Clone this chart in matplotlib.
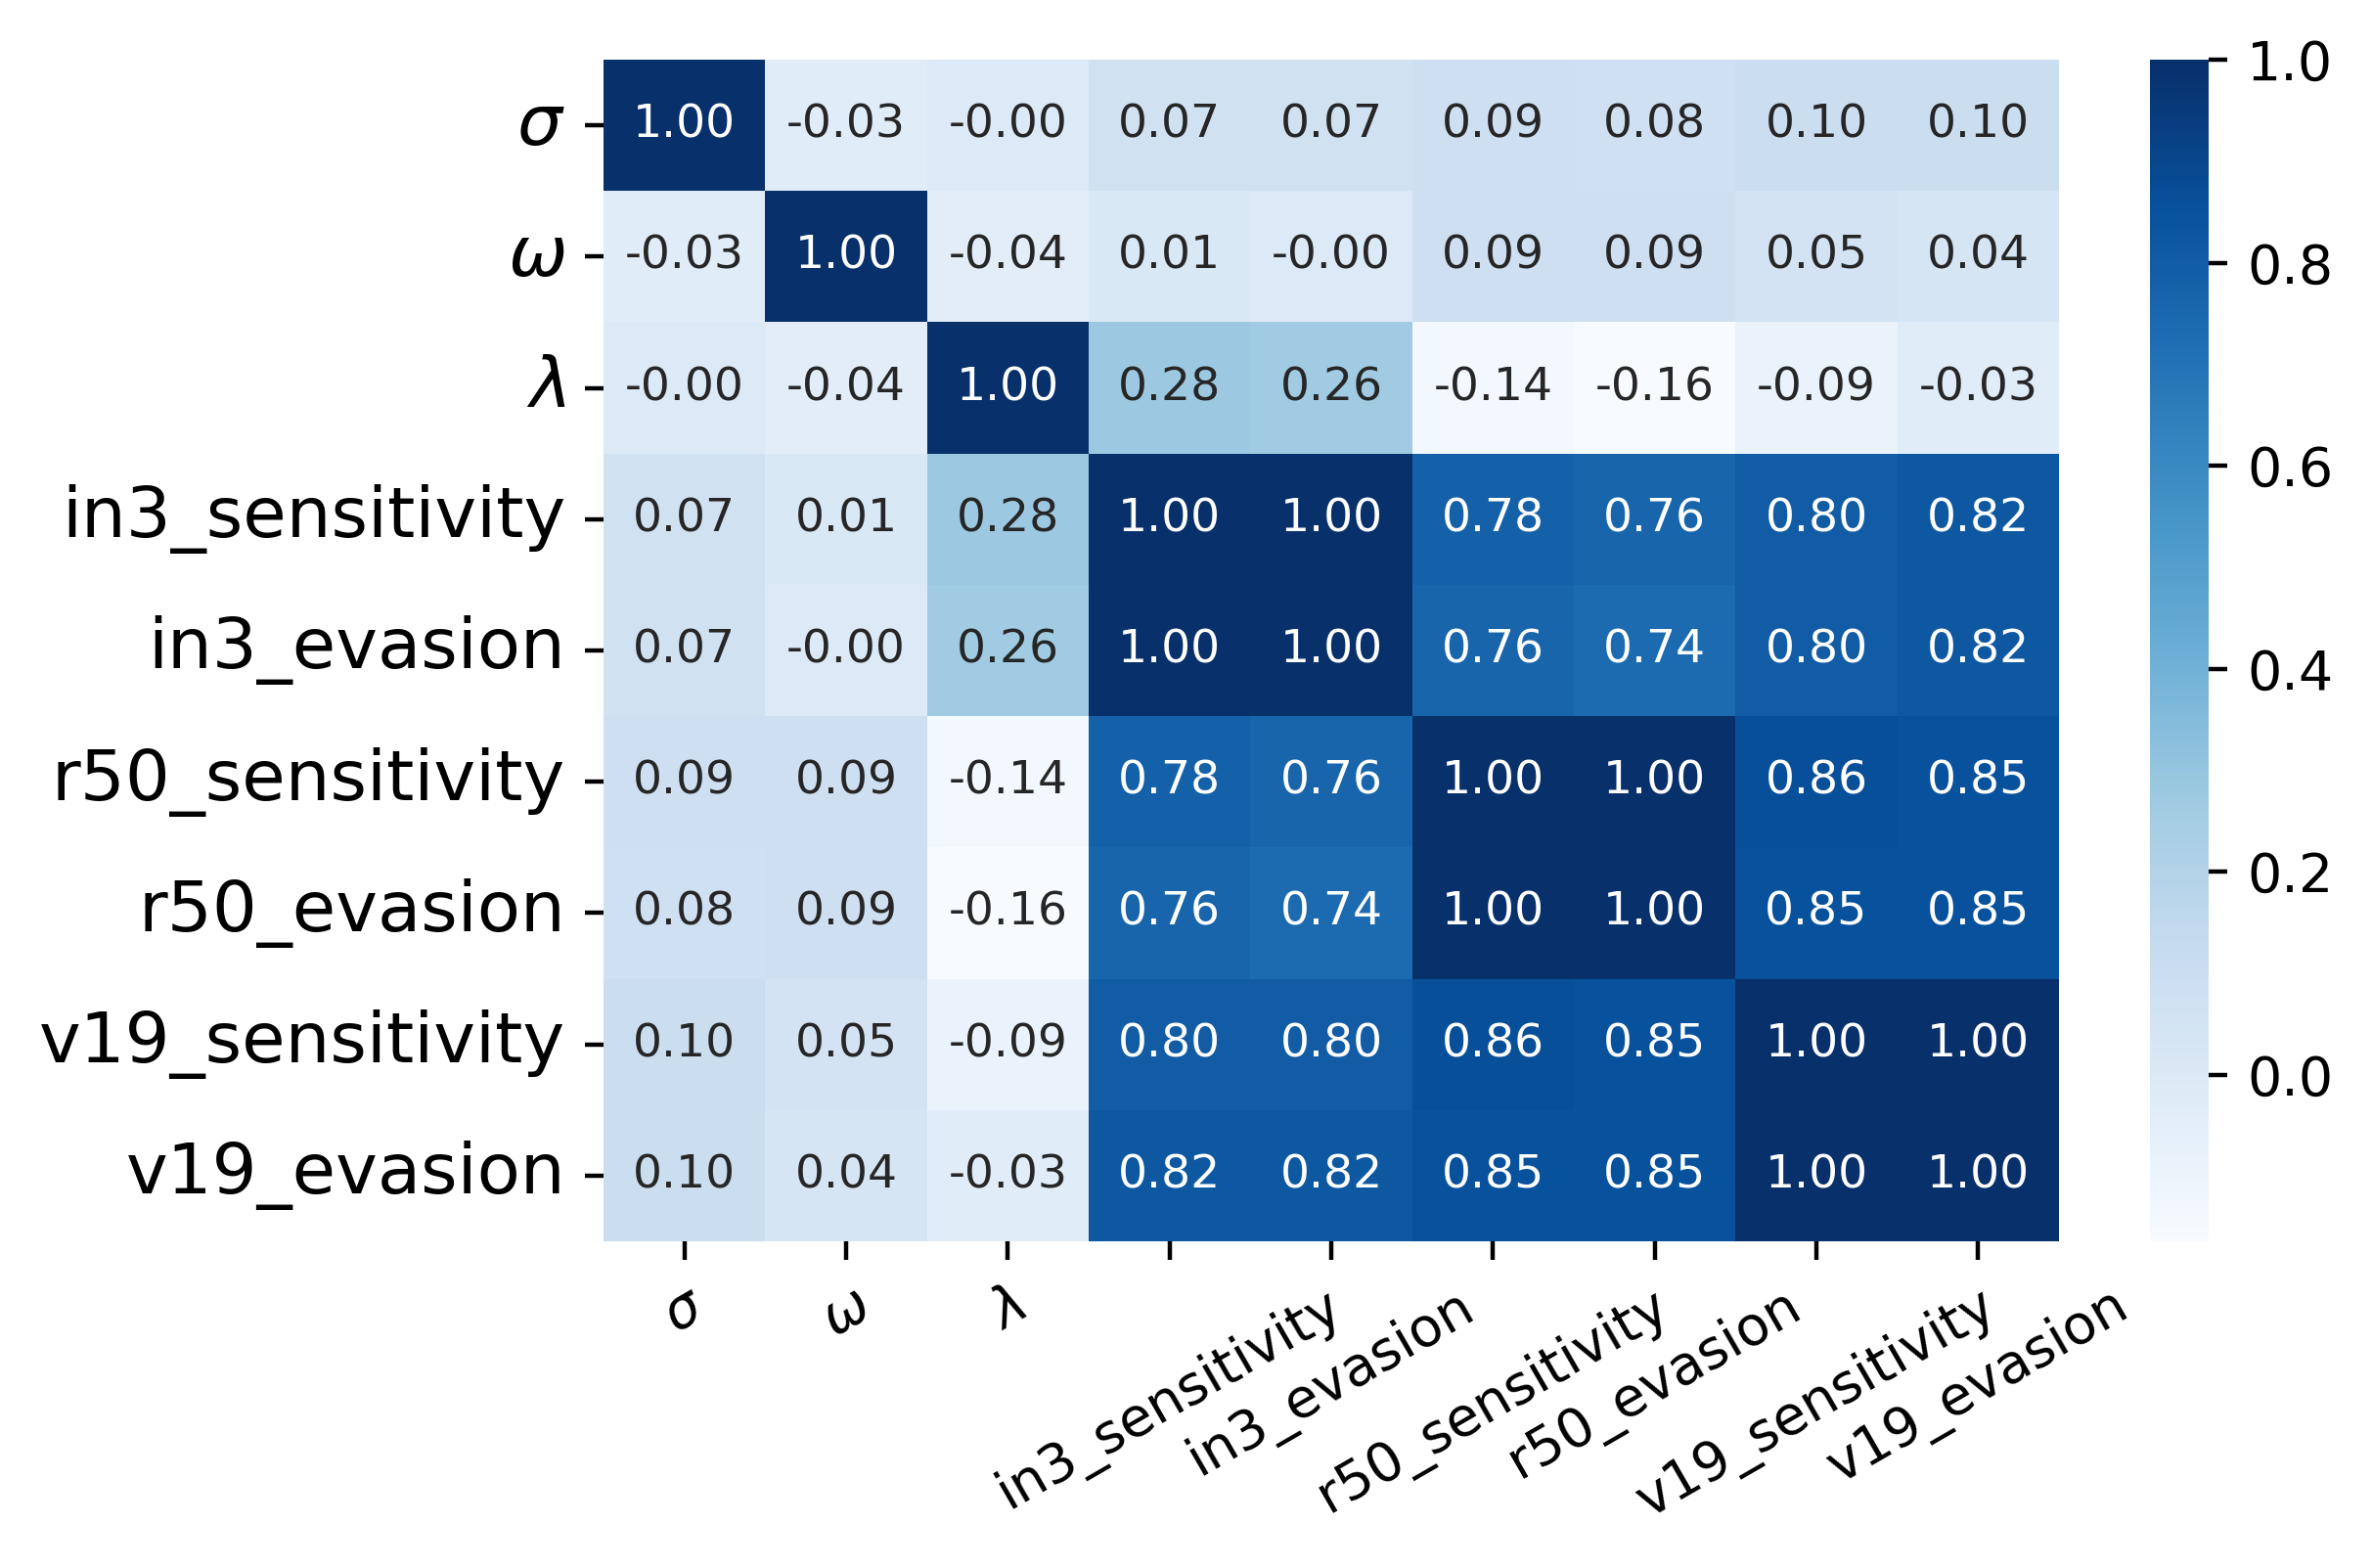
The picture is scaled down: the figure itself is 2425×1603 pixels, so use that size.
import numpy as np
import pandas as pd
import matplotlib
matplotlib.use("Agg")
import matplotlib.pyplot as plt
import seaborn as sns

labels = [r"$\sigma$", r"$\omega$", r"$\lambda$", "in3_sensitivity", "in3_evasion",
          "r50_sensitivity", "r50_evasion", "v19_sensitivity", "v19_evasion"]

row_sigma = [1.00, -0.03, -0.001, 0.07, 0.07, 0.09, 0.08, 0.10, 0.10]
row_omega = [-0.03, 1.00, -0.04, 0.01, -0.001, 0.09, 0.09, 0.05, 0.04]
row_lambda = [-0.001, -0.04, 1.00, 0.28, 0.26, -0.14, -0.164, -0.09, -0.03]
row_in3_s = [0.07, 0.01, 0.28, 1.00, 1.00, 0.78, 0.76, 0.80, 0.82]
row_in3_e = [0.07, -0.001, 0.26, 1.00, 1.00, 0.76, 0.74, 0.80, 0.82]
row_r50_s = [0.09, 0.09, -0.14, 0.78, 0.76, 1.00, 1.00, 0.86, 0.85]
row_r50_e = [0.08, 0.09, -0.164, 0.76, 0.74, 1.00, 1.00, 0.85, 0.85]
row_v19_s = [0.10, 0.05, -0.09, 0.80, 0.80, 0.86, 0.85, 1.00, 1.00]
row_v19_e = [0.10, 0.04, -0.03, 0.82, 0.82, 0.85, 0.85, 1.00, 1.00]

corr = pd.DataFrame([row_sigma, row_omega, row_lambda, row_in3_s, row_in3_e,
                     row_r50_s, row_r50_e, row_v19_s, row_v19_e],
                    index=labels, columns=labels)

W, H = 2425, 1603
fig = plt.figure(figsize=(W / 400, H / 400), dpi=400)
left, right, top, bottom = 617, 2105, 61, 1269
ax = fig.add_axes([left / W, 1 - bottom / H, (right - left) / W, (bottom - top) / H])
cax = fig.add_axes([2198 / W, 1 - bottom / H, 60 / W, (bottom - top) / H])

sns.heatmap(corr, annot=True, fmt=".2f", cmap="Blues", ax=ax, cbar_ax=cax,
            annot_kws={"size": 8.5})

ax.set_yticklabels(labels, rotation=0, fontsize=13)
ax.set_xticklabels(labels, rotation=30, fontsize=10)
cax.tick_params(labelsize=10)

fig.savefig("out.png", dpi=400)
